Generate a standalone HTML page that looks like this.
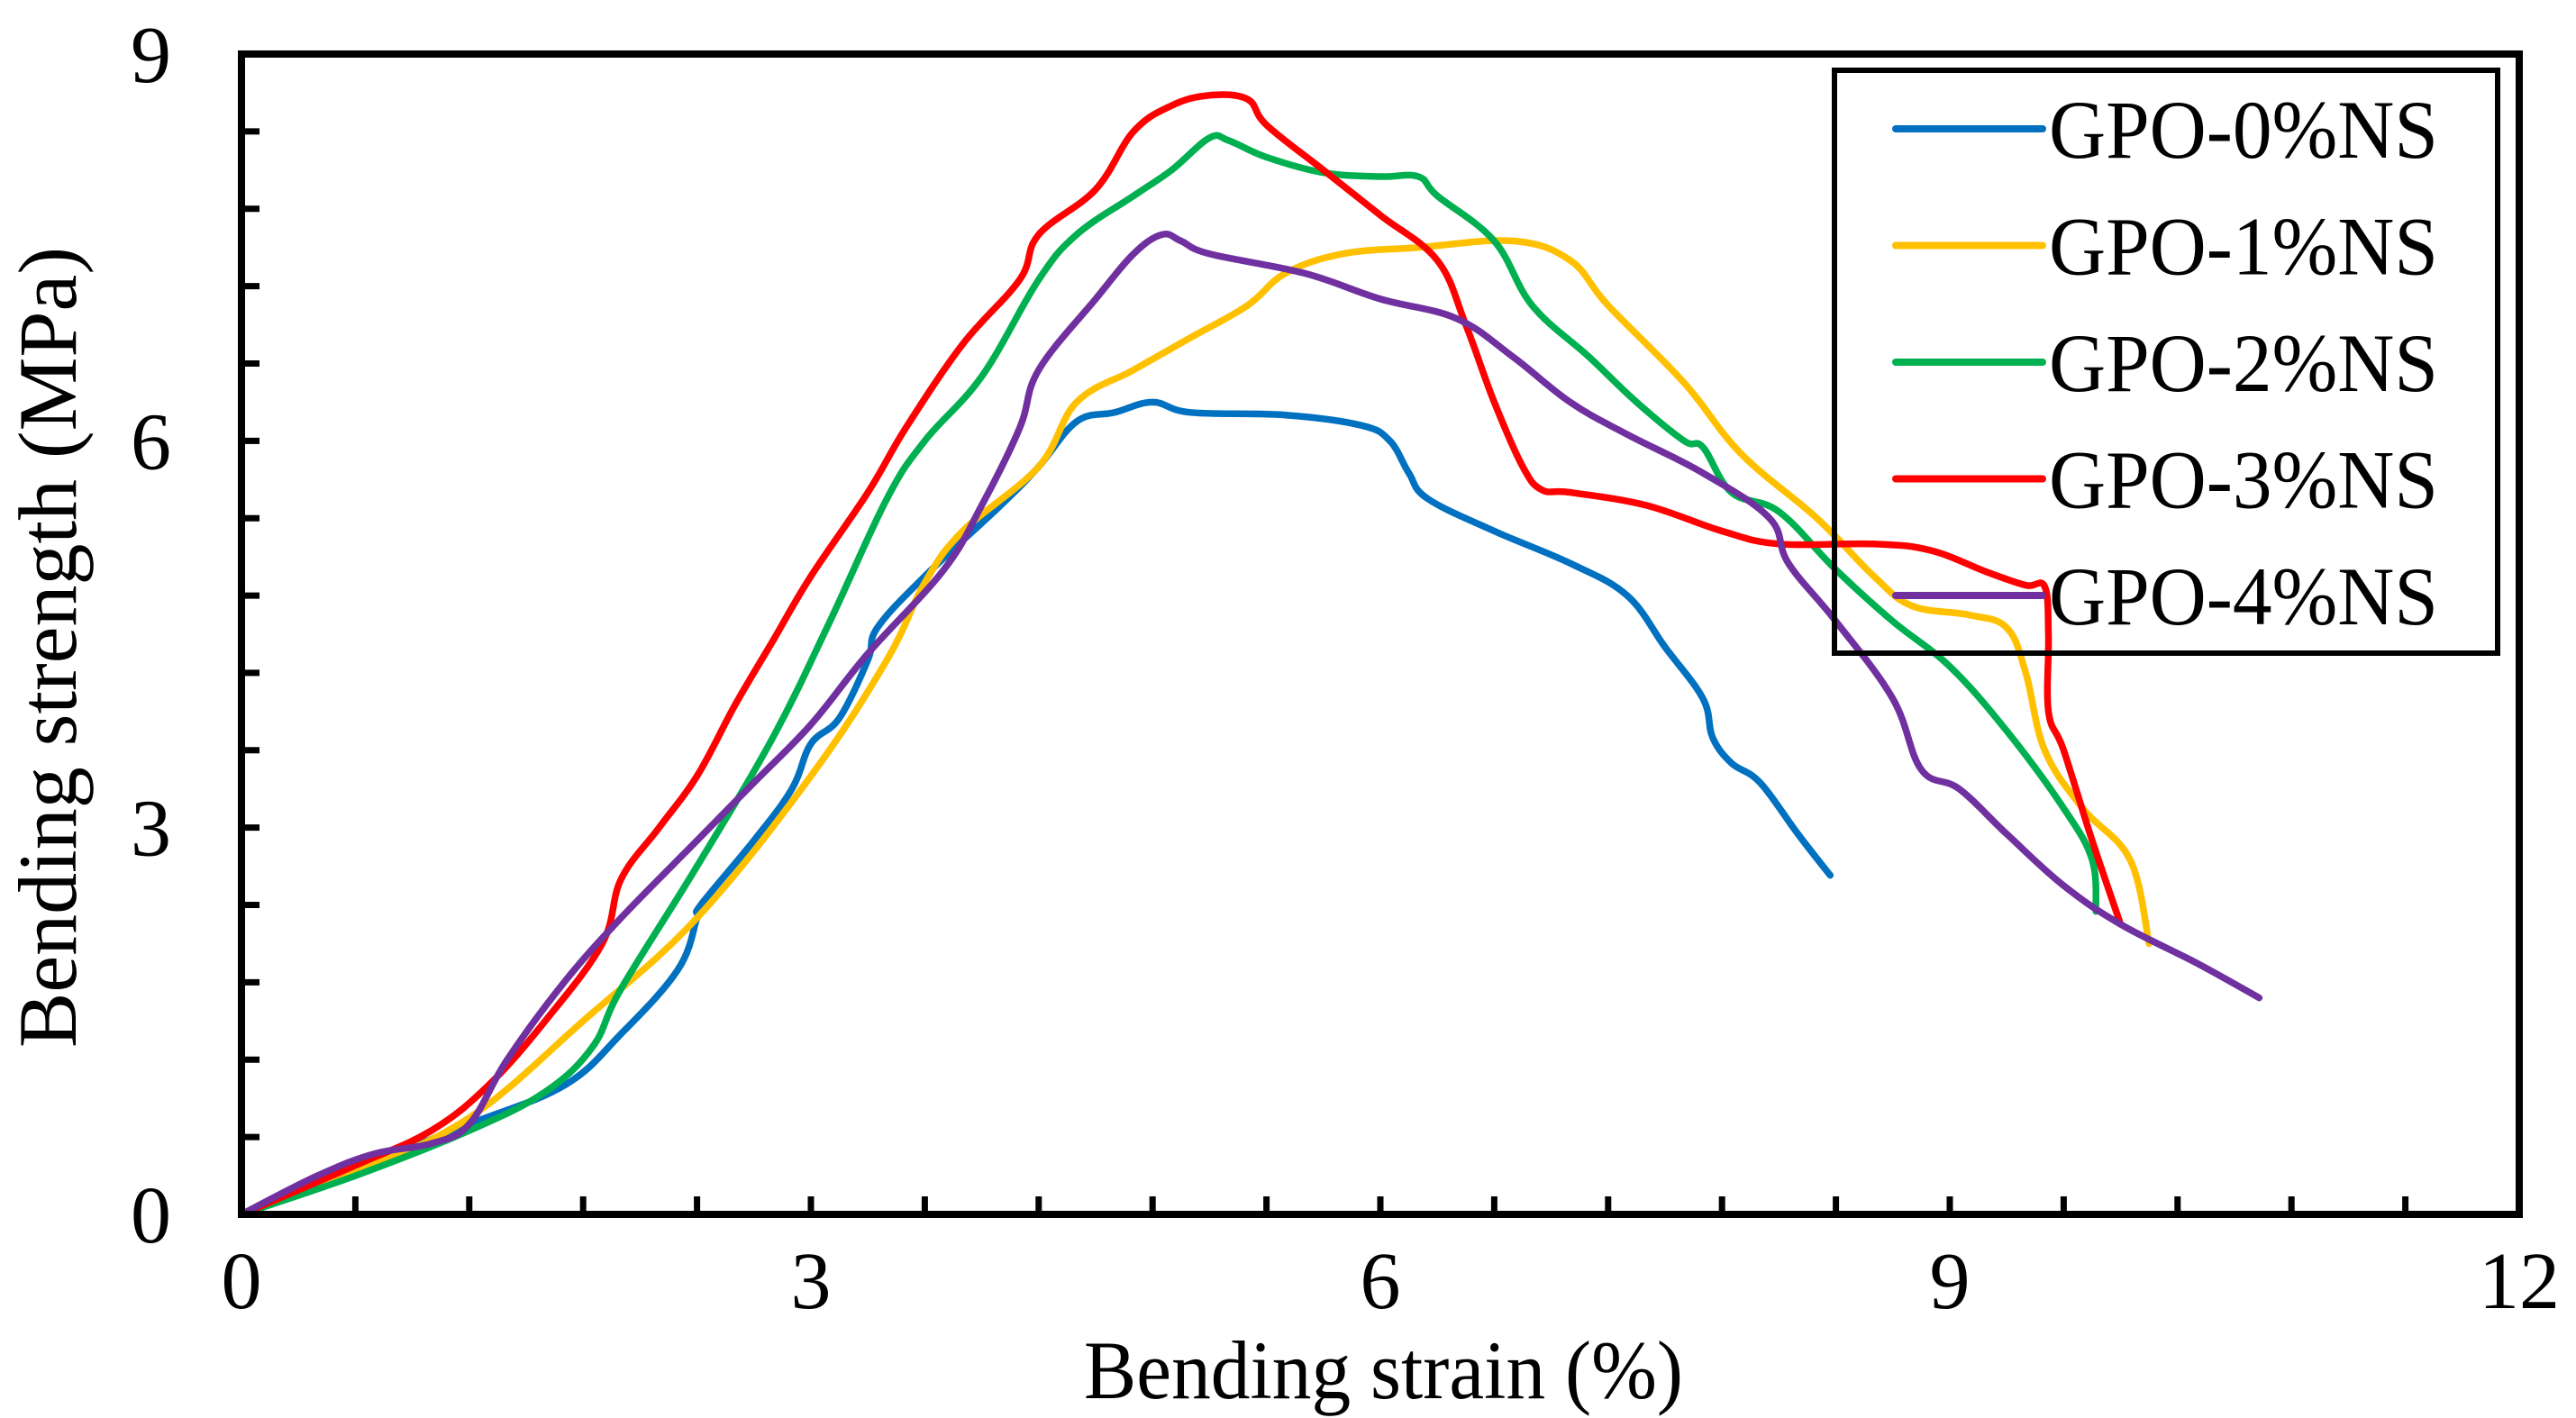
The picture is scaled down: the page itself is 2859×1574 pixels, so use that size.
<!DOCTYPE html>
<html><head><meta charset="utf-8"><style>
html,body{margin:0;padding:0;background:#fff;}
svg{display:block;font-family:"Liberation Serif",serif;}
</style></head><body>
<svg id="chart" width="2859" height="1574" viewBox="0 0 2859 1574" xmlns="http://www.w3.org/2000/svg">
<rect width="2859" height="1574" fill="#fff"/>
<g id="series"></g>
<g id="axes"></g>
<g id="legend"></g>
</svg>
<script>
const xTicks = [0, 3, 6, 9, 12];
const yTicks = [0, 3, 6, 9];
const seriesNames = ["GPO-0%NS", "GPO-1%NS", "GPO-2%NS", "GPO-3%NS", "GPO-4%NS"];
const seriesColors = ["#0070C0", "#FFC000", "#00B050", "#FF0000", "#7030A0"];
const s0x = [0,0.6,1.2,1.7,2.0,2.3,2.4,2.42,2.7,2.9,3.0,3.15,3.3,3.35,3.6,4.0,4.2,4.4,4.6,4.8,5.0,5.5,5.9,6.05,6.15,6.25,6.6,7.0,7.3,7.5,7.7,7.75,7.85,8.0,8.2,8.37];
const s0y = [0,0.35,0.7,1.0,1.4,1.9,2.3,2.4,2.9,3.3,3.65,3.85,4.3,4.55,4.95,5.5,5.8,6.15,6.22,6.3,6.22,6.2,6.12,6.0,5.75,5.55,5.3,5.05,4.8,4.4,4.0,3.7,3.5,3.35,2.95,2.63];
const s1x = [0,0.6,1.2,1.8,2.4,3.0,3.4,3.6,3.8,4.2,4.4,4.7,5.0,5.3,5.5,5.8,6.2,6.7,7.0,7.2,7.6,7.9,8.3,8.6,8.8,9.1,9.3,9.4,9.5,9.7,9.95,10.05];
const s1y = [0,0.33,0.75,1.5,2.3,3.4,4.3,4.9,5.3,5.8,6.3,6.55,6.8,7.05,7.3,7.45,7.5,7.55,7.4,7.05,6.45,5.9,5.4,4.95,4.72,4.65,4.55,4.2,3.6,3.15,2.75,2.1];
const s2x = [0,0.6,1.2,1.6,1.85,2.0,2.4,2.8,3.1,3.4,3.6,3.9,4.2,4.4,4.7,4.9,5.1,5.2,5.4,5.7,6.0,6.2,6.3,6.6,6.8,7.1,7.35,7.6,7.7,7.85,8.1,8.4,8.7,9.0,9.3,9.6,9.75,9.77];
const s2y = [0,0.3,0.65,0.95,1.3,1.75,2.7,3.7,4.6,5.55,6.0,6.5,7.25,7.6,7.9,8.1,8.35,8.33,8.2,8.08,8.05,8.05,7.9,7.55,7.05,6.65,6.3,6.0,5.95,5.6,5.45,5.0,4.6,4.25,3.75,3.15,2.75,2.35];
const s3x = [0,0.6,1.0,1.3,1.6,1.9,2.0,2.2,2.4,2.6,2.8,3.0,3.3,3.5,3.8,4.1,4.2,4.5,4.7,4.9,5.1,5.3,5.4,5.7,6.0,6.3,6.45,6.6,6.75,6.85,7.0,7.4,7.8,8.1,8.6,8.9,9.2,9.4,9.5,9.52,9.52,9.6,9.75,9.9];
const s3y = [0,0.38,0.65,1.0,1.5,2.1,2.6,3.0,3.4,3.95,4.45,4.95,5.6,6.1,6.75,7.25,7.6,7.95,8.4,8.6,8.68,8.65,8.45,8.1,7.75,7.4,6.9,6.3,5.8,5.62,5.6,5.5,5.3,5.2,5.2,5.15,4.98,4.88,4.87,4.5,3.9,3.6,2.9,2.25];
const s4x = [0,0.4,0.7,1.0,1.2,1.4,1.7,2.0,2.4,2.7,3.0,3.3,3.7,3.9,4.1,4.2,4.5,4.7,4.85,4.95,5.1,5.6,6.0,6.4,6.7,7.0,7.3,7.7,8.05,8.15,8.4,8.7,8.85,9.05,9.3,9.6,9.9,10.3,10.63];
const s4y = [0,0.3,0.47,0.55,0.7,1.2,1.8,2.3,2.9,3.35,3.8,4.35,5.0,5.5,6.1,6.55,7.1,7.45,7.6,7.55,7.45,7.3,7.1,6.95,6.65,6.3,6.05,5.75,5.4,5.05,4.6,4.0,3.45,3.3,2.95,2.55,2.25,1.95,1.68];
const allX = [s0x, s1x, s2x, s3x, s4x];
const allY = [s0y, s1y, s2y, s3y, s4y];

const NS = "http://www.w3.org/2000/svg";
const L = 268, R = 2796, T = 60, B = 1348;
const XMAX = 12, YMAX = 9;
function sx(v){ return L + v / XMAX * (R - L); }
function sy(v){ return B - v / YMAX * (B - T); }
function mk(tag, attrs, parent){ const e = document.createElementNS(NS, tag); for (const k in attrs) e.setAttribute(k, attrs[k]); parent.appendChild(e); return e; }
function smoothPath(P){
  let d = 'M' + P[0][0].toFixed(1) + ',' + P[0][1].toFixed(1);
  const t = 0.18;
  for (let i = 0; i < P.length - 1; i++) {
    const p0 = P[Math.max(i - 1, 0)], p1 = P[i], p2 = P[i + 1], p3 = P[Math.min(i + 2, P.length - 1)];
    const c1x = p1[0] + (p2[0] - p0[0]) * t, c1y = p1[1] + (p2[1] - p0[1]) * t;
    const c2x = p2[0] - (p3[0] - p1[0]) * t, c2y = p2[1] - (p3[1] - p1[1]) * t;
    d += ' C' + c1x.toFixed(1) + ',' + c1y.toFixed(1) + ' ' + c2x.toFixed(1) + ',' + c2y.toFixed(1) + ' ' + p2[0].toFixed(1) + ',' + p2[1].toFixed(1);
  }
  return d;
}

const gS = document.getElementById('series');
for (let i = 0; i < allX.length; i++) {
  const P = allX[i].map((x, j) => [sx(x), sy(allY[i][j])]);
  const pl = mk('path', {d: smoothPath(P), fill: 'none', stroke: seriesColors[i], 'stroke-width': 7.5, 'stroke-linejoin': 'round', 'stroke-linecap': 'round'}, gS);
  
  
}

const gA = document.getElementById('axes');
const frame = mk('rect', {x: L, y: T, width: R - L, height: B - T, fill: 'none', stroke: '#000', 'stroke-width': 8}, gA);


for (let k = 1; k < 20; k++) {
  const xv = k * 0.6;
  const t = mk('line', {x1: sx(xv), x2: sx(xv), y1: B, y2: B - 20, stroke: '#000', 'stroke-width': 7}, gA);
  
  
}
for (let k = 1; k < 15; k++) {
  const yv = k * 0.6;
  const t = mk('line', {x1: L, x2: L + 20, y1: sy(yv), y2: sy(yv), stroke: '#000', 'stroke-width': 7}, gA);
  
  
}
xTicks.forEach(v => {
  const t = mk('text', {x: sx(v), y: 1452, 'font-size': 90, 'text-anchor': 'middle'}, gA);
  t.textContent = v;
  
  
});
yTicks.forEach(v => {
  const t = mk('text', {x: 190, y: sy(v) + 31, 'font-size': 90, 'text-anchor': 'end'}, gA);
  t.textContent = v;
  
  
});
const xt = mk('text', {x: 1203, y: 1552, 'font-size': 92, textLength: 665, lengthAdjust: 'spacingAndGlyphs'}, gA);
xt.textContent = 'Bending strain (%)';


const yt = mk('text', {x: 0, y: 0, 'font-size': 92, textLength: 889, lengthAdjust: 'spacingAndGlyphs', transform: 'translate(84,1163) rotate(-90)'}, gA);
yt.textContent = 'Bending strength (MPa)';



const gL = document.getElementById('legend');
const lb = mk('rect', {x: 2036, y: 78, width: 736, height: 647, fill: 'none', stroke: '#000', 'stroke-width': 6}, gL);


seriesNames.forEach((n, i) => {
  const cy = 143 + i * 129.5;
  const ln = mk('line', {x1: 2104, x2: 2267, y1: cy, y2: cy, stroke: seriesColors[i], 'stroke-width': 8, 'stroke-linecap': 'round'}, gL);
  
  
  const tx = mk('text', {x: 2274, y: cy + 32, 'font-size': 92, textLength: 432, lengthAdjust: 'spacingAndGlyphs'}, gL);
  tx.textContent = n;
  
  
});
</script>
</body></html>
